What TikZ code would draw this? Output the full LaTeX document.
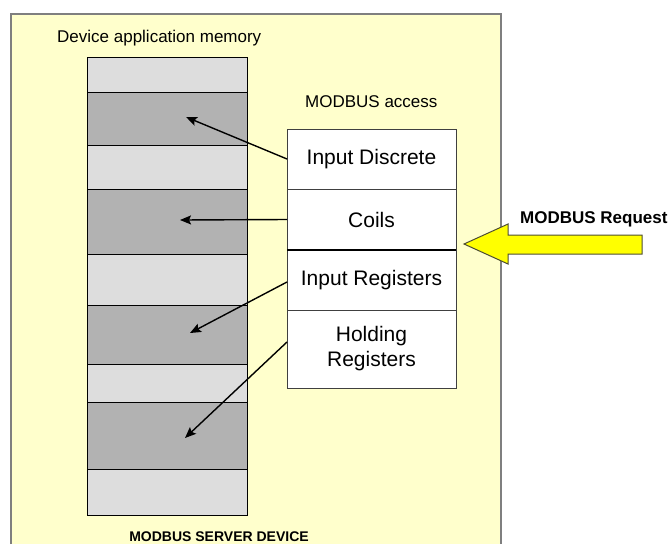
\documentclass[tikz,border=0pt]{standalone}
\usepackage{fontspec}
\setmainfont{Liberation Sans}
\usetikzlibrary{positioning,arrows.meta}

\definecolor{devyellow}{HTML}{FFFFCC}
\definecolor{framegray}{HTML}{7F7F7F}
\definecolor{memlight}{HTML}{DDDDDD}
\definecolor{memdark}{HTML}{B2B2B2}
\definecolor{boxline}{HTML}{404040}
\definecolor{reqyellow}{HTML}{FFFF00}
\definecolor{reqline}{HTML}{4D4D33}

\begin{document}
\begin{tikzpicture}[x = 1pt, y = -1pt,
    mem/.style = {draw = black, line width = 1pt, minimum width = 160pt, inner sep = 0pt, outer sep = 0pt},
    light/.style = {mem, fill = memlight},
    dark/.style = {mem, fill = memdark},
    acc/.style = {draw = boxline, line width = 1pt, fill = white, minimum width = 169pt, inner sep = 0pt, outer sep = 0pt, align = center, font = \fontsize{21}{25}\selectfont},
    lab/.style = {inner sep = 0pt, font = \fontsize{17}{20}\selectfont},
    ptr/.style = {-{Stealth[length = 11pt, width = 9pt, inset = 2pt]}, line width = 1.4pt}]
    \useasboundingbox (0,0) rectangle (668,544);
    \fill[devyellow] (11,14) rectangle (501,544);
    \draw[framegray, line width = 1.3pt] (11,544) |- (501,14) -- (501,544);

    \node[lab, anchor = base west] (mem) at (57,42) {Device application memory};
    \node[light, minimum height = 35pt, anchor = north west] (m1) at (87,57) {};
    \node[dark, minimum height = 53pt, below = 0pt of m1] (m2) {};
    \node[light, minimum height = 44pt, below = 0pt of m2] (m3) {};
    \node[dark, minimum height = 65pt, below = 0pt of m3] (m4) {};
    \node[light, minimum height = 51pt, below = 0pt of m4] (m5) {};
    \node[dark, minimum height = 59pt, below = 0pt of m5] (m6) {};
    \node[light, minimum height = 38pt, below = 0pt of m6] (m7) {};
    \node[dark, minimum height = 67pt, below = 0pt of m7] (m8) {};
    \node[light, minimum height = 46pt, below = 0pt of m8] (m9) {};

    \node[lab, anchor = base west] (access) at (305,107) {MODBUS access};
    \node[acc, minimum height = 60pt, anchor = north west] (id) at (287,129) {Input Discrete};
    \node[acc, minimum height = 61pt, below = 0pt of id] (coils) {Coils};
    \node[acc, minimum height = 60pt, below = 0pt of coils] (ir) {Input Registers};
    \node[acc, minimum height = 78pt, below = 0pt of ir] (hr) {Holding\\Registers};
    \draw[line width = 2pt] (coils.south west) -- (coils.south east);

    \coordinate (t1) at (186,117);
    \coordinate (t2) at (180,220);
    \coordinate (t3) at (190,333);
    \coordinate (t4) at (185,438);
    \draw[ptr] (id.west) -- (t1);
    \draw[ptr] (coils.west) -- (t2);
    \draw[ptr] ([yshift = -2pt]ir.west) -- (t3);
    \draw[ptr] ([yshift = 7pt]hr.west) -- (t4);

    \draw[fill = reqyellow, draw = reqline, line width = 1pt]
        (464,244) -- (508,224) -- (508,235) -- (642,235) -- (642,254) -- (508,254) -- (508,264) -- cycle;
    \node[lab, anchor = base west, font = \bfseries\fontsize{17}{20}\selectfont] (req) at (520,223) {MODBUS Request};

    \node[inner sep = 0pt, anchor = base, font = \bfseries\fontsize{14}{16}\selectfont] (server) at (219,541) {MODBUS SERVER DEVICE};
\end{tikzpicture}
\end{document}
